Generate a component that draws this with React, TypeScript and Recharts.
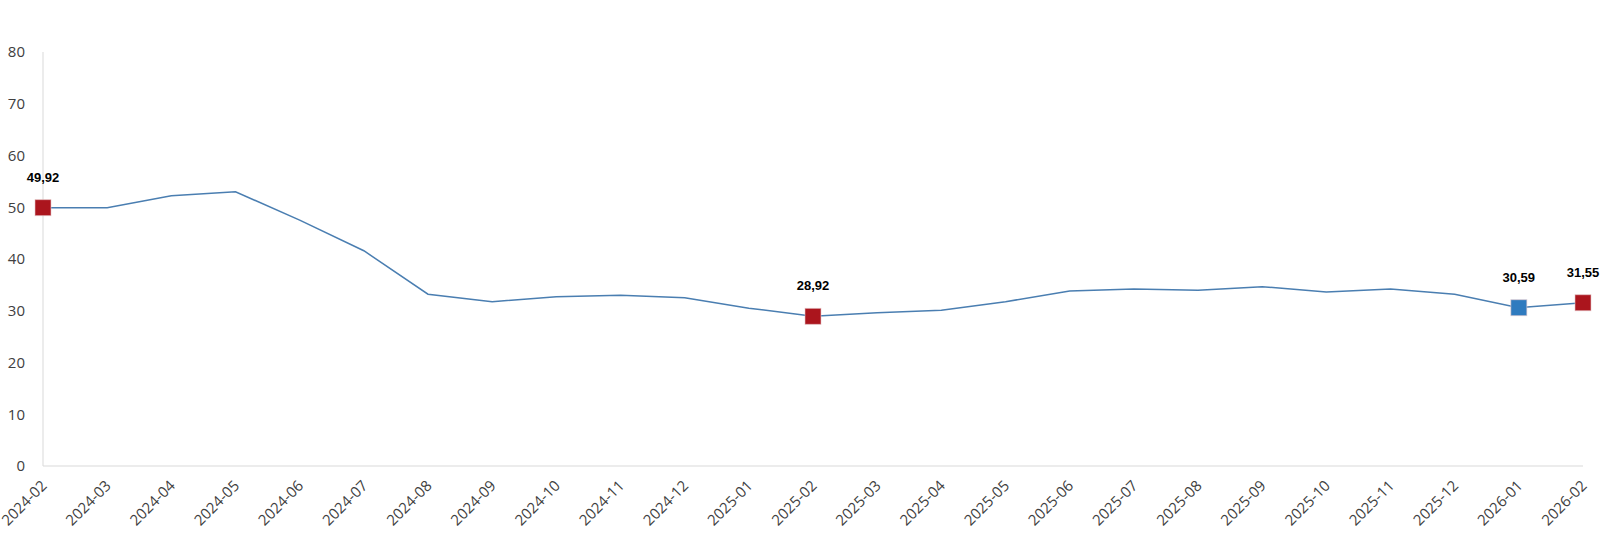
import { LineChart, Line, XAxis, YAxis, LabelList } from "recharts";

const months = [
  "2024-02", "2024-03", "2024-04", "2024-05", "2024-06", "2024-07", "2024-08",
  "2024-09", "2024-10", "2024-11", "2024-12", "2025-01", "2025-02", "2025-03",
  "2025-04", "2025-05", "2025-06", "2025-07", "2025-08", "2025-09", "2025-10",
  "2025-11", "2025-12", "2026-01", "2026-02",
];

const values = [
  49.92, 49.9, 52.2, 53.0, 47.5, 41.6, 33.2,
  31.75, 32.7, 33.0, 32.5, 30.5, 28.92, 29.6,
  30.1, 31.75, 33.8, 34.2, 33.95, 34.65, 33.6,
  34.2, 33.2, 30.59, 31.55,
];

// months that get a marker + value label, with marker colour
const highlights: Record<string, string> = {
  "2024-02": "#ab151d",
  "2025-02": "#ab151d",
  "2026-01": "#2f7bbf",
  "2026-02": "#ab151d",
};

const yTicks = [0, 10, 20, 30, 40, 50, 60, 70, 80];

const data = months.map((m, i) => ({ month: m, value: values[i] }));

const fmt = (v: number) => v.toFixed(2).replace(".", ",");

function Marker(props: any) {
  const { cx, cy, payload } = props;
  const c = highlights[payload.month];
  if (!c) return <g />;
  return (
    <rect
      x={cx - 8}
      y={cy - 8}
      width={16}
      height={16}
      fill={c}
      stroke="#e6c9cb"
      strokeOpacity={0.6}
      strokeWidth={1}
    />
  );
}

function ValueLabel(props: any) {
  const { x, y, value, index } = props;
  if (!highlights[months[index]]) return null;
  return (
    <text
      x={x}
      y={y - 26}
      textAnchor="middle"
      fontFamily="'Liberation Sans', Arial, sans-serif"
      fontWeight="bold"
      fontSize={13}
      fill="#000"
    >
      {fmt(value)}
    </text>
  );
}

function MonthTick(props: any) {
  const { x, y, payload } = props;
  return (
    <g transform={`translate(${x + 1},${y + 9})`}>
      <text
        x={0}
        y={0}
        dy="0.35em"
        textAnchor="end"
        transform="rotate(-45)"
        fontFamily="'Open Sans', sans-serif"
        fontSize={15}
        fill="#404040"
      >
        {payload.value}
      </text>
    </g>
  );
}

export default function App() {
  return (
    <div style={{ position: "absolute", left: 0, top: 0, background: "#fff" }}>
      <LineChart
        width={1600}
        height={537}
        data={data}
        margin={{ top: 52, right: 17, bottom: 0, left: 0 }}
      >
        <XAxis
          dataKey="month"
          interval={0}
          height={71}
          tickLine={false}
          axisLine={{ stroke: "#d9d9d9" }}
          tick={<MonthTick />}
        />
        <YAxis
          width={43}
          domain={[0, 80]}
          ticks={yTicks}
          tickLine={false}
          axisLine={{ stroke: "#d9d9d9" }}
          tickMargin={12}
          tick={{ fill: "#404040", fontSize: 15, fontFamily: "'Open Sans', sans-serif" }}
        />
        <Line
          type="linear"
          dataKey="value"
          stroke="#4a7eb1"
          strokeWidth={1.5}
          dot={<Marker />}
          activeDot={false}
          isAnimationActive={false}
        >
          <LabelList dataKey="value" content={<ValueLabel />} />
        </Line>
      </LineChart>
    </div>
  );
}
